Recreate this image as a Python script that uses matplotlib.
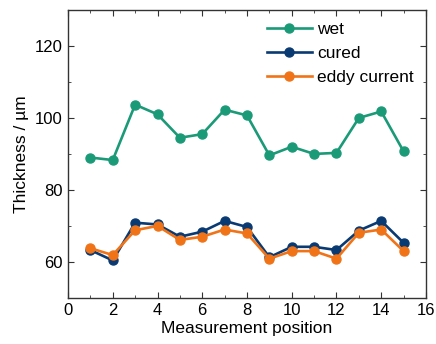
import matplotlib
matplotlib.use("Agg")
import matplotlib.pyplot as plt
from matplotlib.ticker import MultipleLocator

plt.rcParams['font.family'] = ['Liberation Sans', 'DejaVu Sans']

# data
position = list(range(1, 16))
wet = [89.0, 88.3, 103.7, 101.0, 94.5, 95.5, 102.3, 100.7, 89.6, 92.0, 90.0, 90.3, 100.0, 101.8, 90.7]
cured = [63.3, 60.4, 70.9, 70.4, 67.0, 68.4, 71.4, 69.7, 61.3, 64.2, 64.2, 63.3, 68.7, 71.4, 65.3]
eddy = [63.8, 61.9, 68.8, 70.0, 66.1, 67.0, 69.0, 67.9, 60.9, 63.0, 63.0, 60.9, 68.1, 69.0, 63.0]

fig = plt.figure(figsize=(4.36, 3.44), dpi=100)
ax = fig.add_axes([0.156, 0.134, 0.821, 0.837])

style = dict(marker='o', markersize=6.5, linewidth=1.9)
ax.plot(position, wet, color='#1b9a78', label='wet', **style)
ax.plot(position, cured, color='#0a3a72', label='cured', **style)
ax.plot(position, eddy, color='#f07318', label='eddy current', **style)

ax.set_xlim(0, 16)
ax.set_ylim(50, 130)
ax.xaxis.set_major_locator(MultipleLocator(2))
ax.xaxis.set_minor_locator(MultipleLocator(1))
ax.yaxis.set_major_locator(MultipleLocator(20))
ax.yaxis.set_minor_locator(MultipleLocator(10))
ax.tick_params(which='both', direction='in', top=True, right=True, labelsize=12,
               color='#333333')
ax.tick_params(which='major', length=4, pad=4)
ax.tick_params(which='minor', length=2)
for s in ax.spines.values():
    s.set_linewidth(1.0)
    s.set_color('#333333')

ax.set_xlabel('Measurement position', fontsize=12.5, labelpad=2)
ax.set_ylabel('Thickness / µm', fontsize=12.5)
ax.legend(loc='upper right', frameon=False, fontsize=12.5, handlelength=2.6,
          labelspacing=0.5, handletextpad=0.3, borderaxespad=0.3)

fig.savefig('out.png', dpi=100)
